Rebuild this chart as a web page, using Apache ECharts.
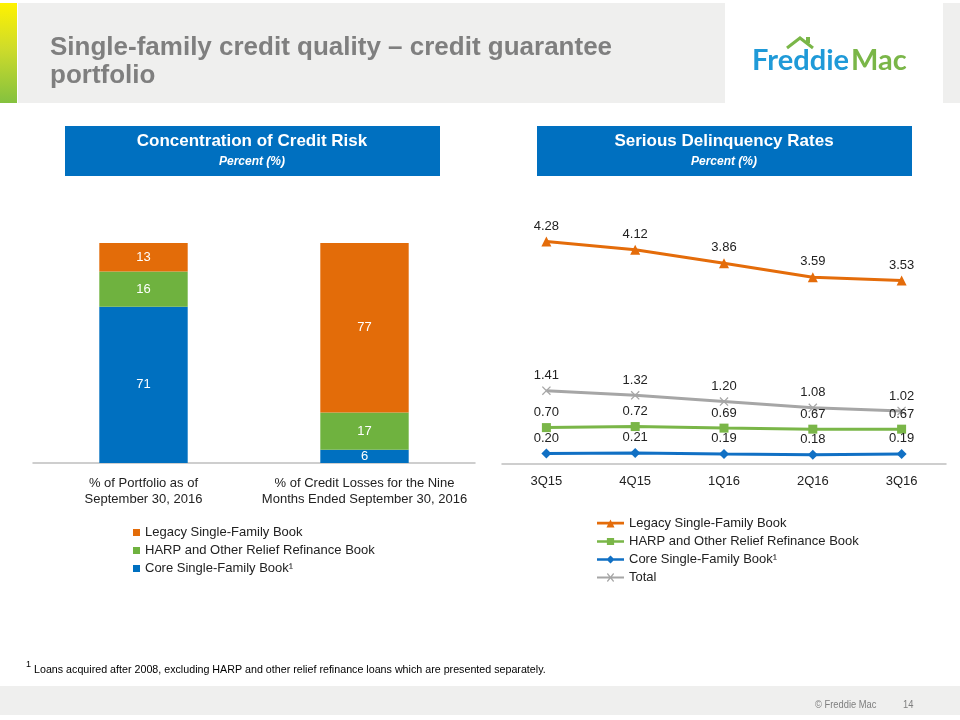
<!DOCTYPE html>
<html>
<head>
<meta charset="utf-8">
<script src="https://cdn.jsdelivr.net/npm/echarts@6/dist/echarts.min.js"></script>
<style>
  html, body { margin: 0; padding: 0; background: #fff; }
  #chart { width: 960px; height: 720px; }
</style>
</head>
<body>
<div id="chart"></div>
<script>
// Concentration of credit risk (stacked bars)
const barCategories = ['% of Portfolio as of\nSeptember 30, 2016', '% of Credit Losses for the Nine\nMonths Ended September 30, 2016'];
const coreBook = [71, 6];
const harpBook = [16, 17];
const legacyBook = [13, 77];

// Serious delinquency rates (lines)
const quarters = ['3Q15', '4Q15', '1Q16', '2Q16', '3Q16'];
const legacyRate = [4.28, 4.12, 3.86, 3.59, 3.53];
const harpRate = [0.70, 0.72, 0.69, 0.67, 0.67];
const coreRate = [0.20, 0.21, 0.19, 0.18, 0.19];
const totalRate = [1.41, 1.32, 1.20, 1.08, 1.02];

const names = {
    legacy: 'Legacy Single-Family Book',
    harp: 'HARP and Other Relief Refinance Book',
    core: 'Core Single-Family Book\u00b9',
    total: 'Total'
};

const ORANGE = '#e36c09';
const GREEN = '#6fb23f';
const BLUE = '#0070c0';
const L_ORANGE = '#e46c0a';
const L_GREEN = '#7ab648';
const L_BLUE = '#1170c4';
const GRAY = '#a6a6a6';
const FONT = '"Liberation Sans", Arial, sans-serif';

const crossPath = 'path://M0,1L1,0L5,4L9,0L10,1L6,5L10,9L9,10L5,6L1,10L0,9L4,5Z';

// legend icons: line with the series marker
const iconTri = 'path://M0,3.5H30V6.5H0Z M10.5,10L15,1L19.5,10Z';
const iconSq = 'path://M0,3.5H30V6.5H0Z M11,1H19V9H11Z';
const iconDia = 'path://M0,3.5H30V6.5H0Z M15,0.5L19.5,5L15,9.5L10.5,5Z';
const iconX = 'path://M0,4H30V6H0Z M11,1L12,0L19,9L18,10Z M18,0L19,1L12,10L11,9Z';

const chart = echarts.init(document.getElementById('chart'));

function barSeries(name, data, color) {
    return {
        name: name,
        type: 'bar',
        stack: 'risk',
        xAxisIndex: 0,
        yAxisIndex: 0,
        barWidth: '40%',
        data: data,
        itemStyle: { color: color },
        label: { show: true, position: 'inside', color: '#fff', fontSize: 13, fontFamily: FONT }
    };
}

function lineSeries(name, data, color, symbol, size) {
    return {
        name: name,
        type: 'line',
        xAxisIndex: 1,
        yAxisIndex: 1,
        data: data,
        symbol: symbol,
        symbolSize: size,
        lineStyle: { color: color, width: 3 },
        itemStyle: { color: color },
        label: {
            show: true, position: 'top', distance: 4,
            color: '#222', fontSize: 13, fontFamily: FONT,
            formatter: p => p.value.toFixed(2)
        }
    };
}

const option = {
    animation: false,
    textStyle: { fontFamily: FONT },
    graphic: [
        // header band
        { type: 'rect', shape: { x: 18, y: 3, width: 707, height: 100 }, style: { fill: '#efefee' } },
        { type: 'rect', shape: { x: 943, y: 3, width: 17, height: 100 }, style: { fill: '#efefee' } },
        {
            type: 'rect', shape: { x: 0, y: 3, width: 17, height: 100 },
            style: {
                fill: new echarts.graphic.LinearGradient(0, 0, 0, 1, [
                    { offset: 0, color: '#fff200' },
                    { offset: 0.45, color: '#cfdc2a' },
                    { offset: 1, color: '#84c13f' }
                ])
            }
        },
        { type: 'text', left: 50, top: 35, style: { text: 'Single-family credit quality \u2013 credit guarantee', fill: '#7f7f7f', font: 'bold 26px ' + FONT } },
        { type: 'text', left: 50, top: 63, style: { text: 'portfolio', fill: '#7f7f7f', font: 'bold 26px ' + FONT } },
        // logo
        { type: 'polyline', shape: { points: [[787, 48], [800, 38], [813, 48]] }, style: { stroke: '#7ab648', lineWidth: 3, fill: null } },
        { type: 'rect', shape: { x: 806, y: 37, width: 4, height: 6 }, style: { fill: '#7ab648' } },
        { type: 'text', x: 849, y: 46, style: { text: 'Freddie', fill: '#1f9ad8', font: 'bold 29px Lato, ' + FONT, align: 'right' } },
        { type: 'text', x: 851, y: 46, style: { text: 'Mac', fill: '#7ab648', font: 'bold 29px Lato, ' + FONT, align: 'left' } },
        // panel headers
        { type: 'rect', shape: { x: 65, y: 126, width: 375, height: 50 }, style: { fill: '#0070c0' } },
        { type: 'text', x: 252, y: 133, style: { text: 'Concentration of Credit Risk', fill: '#fff', font: 'bold 17px ' + FONT, align: 'center' } },
        { type: 'text', x: 252, y: 156, style: { text: 'Percent (%)', fill: '#fff', font: 'italic bold 12px ' + FONT, align: 'center' } },
        { type: 'rect', shape: { x: 537, y: 126, width: 375, height: 50 }, style: { fill: '#0070c0' } },
        { type: 'text', x: 724, y: 133, style: { text: 'Serious Delinquency Rates', fill: '#fff', font: 'bold 17px ' + FONT, align: 'center' } },
        { type: 'text', x: 724, y: 156, style: { text: 'Percent (%)', fill: '#fff', font: 'italic bold 12px ' + FONT, align: 'center' } },
        // footnote
        { type: 'text', x: 26, y: 660, style: { text: '1', fill: '#000', font: '9px ' + FONT } },
        { type: 'text', x: 34, y: 664, scaleX: 0.93, style: { text: 'Loans acquired after 2008, excluding HARP and other relief refinance loans which are presented separately.', fill: '#000', font: '11.5px ' + FONT } },
        // footer
        { type: 'rect', shape: { x: 0, y: 686, width: 960, height: 29 }, style: { fill: '#efefee' } },
        { type: 'text', x: 815, y: 699, scaleX: 0.85, style: { text: '\u00a9 Freddie Mac', fill: '#7f7f7f', font: '11px ' + FONT } },
        { type: 'text', x: 903, y: 699, scaleX: 0.85, style: { text: '14', fill: '#7f7f7f', font: '11px ' + FONT } }
    ],
    legend: [
        {
            data: [names.legacy, names.harp, names.core],
            orient: 'vertical', left: 128, top: 521,
            icon: 'rect', itemWidth: 7, itemHeight: 7, itemGap: 5,
            textStyle: { fontSize: 13, color: '#222', fontFamily: FONT }
        },
        {
            data: [
                { name: names.legacy, icon: iconTri, itemStyle: { color: L_ORANGE } },
                { name: names.harp, icon: iconSq, itemStyle: { color: L_GREEN } },
                { name: names.core, icon: iconDia, itemStyle: { color: L_BLUE } },
                { name: names.total, icon: iconX, itemStyle: { color: GRAY } }
            ],
            orient: 'vertical', left: 592, top: 512,
            itemWidth: 27, itemHeight: 9, itemGap: 5,
            textStyle: { fontSize: 13, color: '#222', fontFamily: FONT }
        }
    ],
    grid: [
        { left: 33, right: 485, top: 243, bottom: 257 },
        { left: 502, right: 14, top: 204, bottom: 256 }
    ],
    xAxis: [
        {
            gridIndex: 0, type: 'category', data: barCategories,
            axisLine: { lineStyle: { color: '#bfbfbf', width: 1.5 } },
            axisTick: { show: false },
            axisLabel: { color: '#222', fontSize: 13, lineHeight: 16, margin: 12, interval: 0 }
        },
        {
            gridIndex: 1, type: 'category', data: quarters,
            axisLine: { lineStyle: { color: '#bfbfbf', width: 1.5 } },
            axisTick: { show: false },
            axisLabel: { color: '#222', fontSize: 13, margin: 11 }
        }
    ],
    yAxis: [
        { gridIndex: 0, type: 'value', min: 0, max: 100, show: false },
        { gridIndex: 1, type: 'value', min: 0, max: 5, show: false }
    ],
    series: [
        barSeries(names.core, coreBook, BLUE),
        barSeries(names.harp, harpBook, GREEN),
        barSeries(names.legacy, legacyBook, ORANGE),
        lineSeries(names.legacy, legacyRate, L_ORANGE, 'triangle', 10),
        lineSeries(names.harp, harpRate, L_GREEN, 'rect', 9),
        lineSeries(names.core, coreRate, L_BLUE, 'diamond', 10),
        lineSeries(names.total, totalRate, GRAY, crossPath, 9)
    ]
};

chart.setOption(option);
</script>
</body>
</html>
